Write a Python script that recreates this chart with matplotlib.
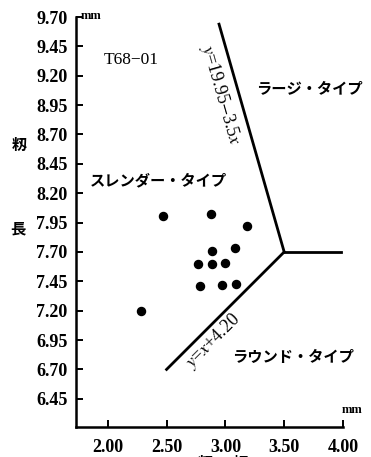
"""
籾長と籾幅による粒型の分類 (T68-01)
"""
import numpy as np
import matplotlib
matplotlib.use('Agg')
import matplotlib.pyplot as plt

plt.rcParams['mathtext.fontset'] = 'stix'

# データ: 籾幅 (mm), 籾長 (mm)
haba = [2.28, 2.47, 2.88, 3.18, 2.89, 3.08, 2.77, 2.89, 3.00, 2.78, 2.97, 3.09]
nagasa = [7.20, 8.01, 8.02, 7.92, 7.71, 7.73, 7.60, 7.60, 7.61, 7.41, 7.42, 7.43]

x_ticks = [2.00, 2.50, 3.00, 3.50, 4.00]
y_ticks = [6.45, 6.70, 6.95, 7.20, 7.45, 7.70, 7.95, 8.20, 8.45, 8.70, 8.95, 9.20, 9.45, 9.70]

# 境界線 y = 19.95 - 3.5x, y = x + 4.20
x_kousa = 15.75 / 4.5          # 交点 x = 3.5
y_kousa = x_kousa + 4.20       # 交点 y = 7.7
x_sen1 = np.array([2.946, x_kousa])
x_sen2 = np.array([2.50, x_kousa])
x_sen3 = np.array([x_kousa, 3.98])

serif = ['Liberation Serif', 'DejaVu Serif']
jp = ['Noto Sans CJK JP', 'DejaVu Sans']

fig = plt.figure(figsize=(3.71, 4.57), dpi=100)
ax = fig.add_axes([76 / 371, 1 - 427 / 457, 267 / 371, 410 / 457])

ax.plot(haba, nagasa, 'o', color='black', markersize=5.8)
ax.plot(x_sen1, 19.95 - 3.5 * x_sen1, color='black', lw=2)
ax.plot(x_sen2, x_sen2 + 4.20, color='black', lw=2)
ax.plot(x_sen3, [y_kousa, y_kousa], color='black', lw=2)

ax.set_xlim(1.73, 4.00)
ax.set_ylim(6.21, 9.70)
ax.spines['top'].set_visible(False)
ax.spines['right'].set_visible(False)
ax.spines['left'].set_linewidth(1.8)
ax.spines['bottom'].set_linewidth(1.8)

ax.set_xticks(x_ticks)
ax.set_xticklabels(['%.2f' % v for v in x_ticks], family=serif,
                   fontsize=13, fontweight='bold')
ax.set_yticks(y_ticks)
ax.set_yticklabels(['%.2f' % v for v in y_ticks], family=serif,
                   fontsize=13, fontweight='bold')
ax.tick_params(direction='in', length=5, width=1.4)
ax.tick_params(axis='x', pad=9)
ax.tick_params(axis='y', pad=6)

# 注記
ax.text(2.196, 9.334, 'T68\u221201', family=serif, fontsize=12.5,
        ha='center', va='center')
ax.text(1.847, 8.313, 'スレンダー・タイプ', family=jp, fontsize=11,
        fontweight='bold', ha='left', va='center')
ax.text(3.26, 9.096, 'ラージ・タイプ', family=jp, fontsize=11,
        fontweight='bold', ha='left', va='center')
ax.text(3.055, 6.806, 'ラウンド・タイプ', family=jp, fontsize=11,
        fontweight='bold', ha='left', va='center')
ax.text(2.96, 9.036, r'$y$=19.95$-$3.5$x$', family=serif, fontsize=13,
        rotation=-74, rotation_mode='anchor', ha='center', va='center')
ax.text(2.90, 6.943, r'$y$=$x$+4.20', family=serif, fontsize=13,
        rotation=45, rotation_mode='anchor', ha='center', va='center')

# 単位と軸ラベル
fig.text(81 / 371, 1 - 16 / 457, 'mm', family=serif, fontsize=9,
         fontweight='bold', ha='left', va='center')
fig.text(352 / 371, 1 - 410 / 457, 'mm', family=serif, fontsize=9,
         fontweight='bold', ha='center', va='center')
fig.text(19 / 371, 1 - 145 / 457, '籾', family=jp, fontsize=11,
         fontweight='bold', ha='center', va='center')
fig.text(18 / 371, 1 - 228 / 457, '長', family=jp, fontsize=11,
         fontweight='bold', ha='center', va='center')
fig.text(205 / 371, 1 - 463 / 457, '籾', family=jp, fontsize=11,
         fontweight='bold', ha='center', va='center')
fig.text(240 / 371, 1 - 463 / 457, '幅', family=jp, fontsize=11,
         fontweight='bold', ha='center', va='center')

fig.savefig('out.png', dpi=100)
